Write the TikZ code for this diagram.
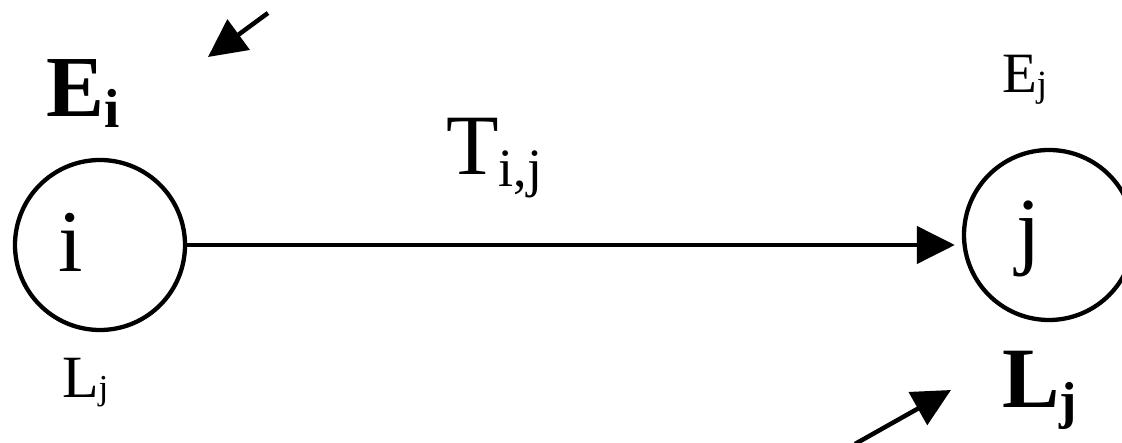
\documentclass[tikz,border=0pt]{standalone}
\usepackage{fontspec}
\setmainfont{Liberation Serif}
\usetikzlibrary{arrows.meta}
\newcommand{\fsz}[1]{\fontsize{#1}{#1}\selectfont}
\newcommand{\lowr}[3]{\raisebox{-#1pt}{\fsz{#2}#3}}
\begin{document}
\begin{tikzpicture}[x=1pt,y=-1pt,
  vertex/.style={draw,circle,line width=4.3pt,minimum size=170pt,inner sep=0pt},
  conn/.style={line width=4.5pt,-{Triangle[length=38pt,width=37pt]}},
  txt/.style={anchor=base west,inner sep=0pt,outer sep=0pt}]
\useasboundingbox (0,0) rectangle (1122,443);
\clip (0,0) rectangle (1122,443);
% vertices
\node[vertex] (ni) at (100,245) {};
\node[vertex] (nj) at (1049,235) {};
% labels
\node[txt] (ti) at (58,272) {\fsz{88}i};
\node[txt] (tj) at (1016,259) {\fsz{87}j};
\node[txt] (Ei) at (46,117) {\fsz{87}\bfseries E\lowr{11}{55}{i}};
\node[txt] (Lj1) at (62,398) {\fsz{60}L\lowr{2}{35}{j}};
\node[txt] (Tij) at (446,175) {\fsz{86}T\lowr{12}{54}{i,j}};
\node[txt] (Ej) at (1002,93) {\fsz{57}E\lowr{4}{37}{j}};
\node[txt] (Lj2) at (1002,408) {\fsz{86}\bfseries L\lowr{11}{52}{j}};
% connectors
\draw[conn,shorten >=7pt] (ni.east) -- (ni.east -| nj.west);
\coordinate (a1s) at (268,13);
\coordinate (a1e) at (208,57);
\draw[conn] (a1s) -- (a1e);
\coordinate (a2s) at (855,444);
\coordinate (a2e) at (951,390);
\draw[conn] (a2s) -- (a2e);
\end{tikzpicture}
\end{document}
